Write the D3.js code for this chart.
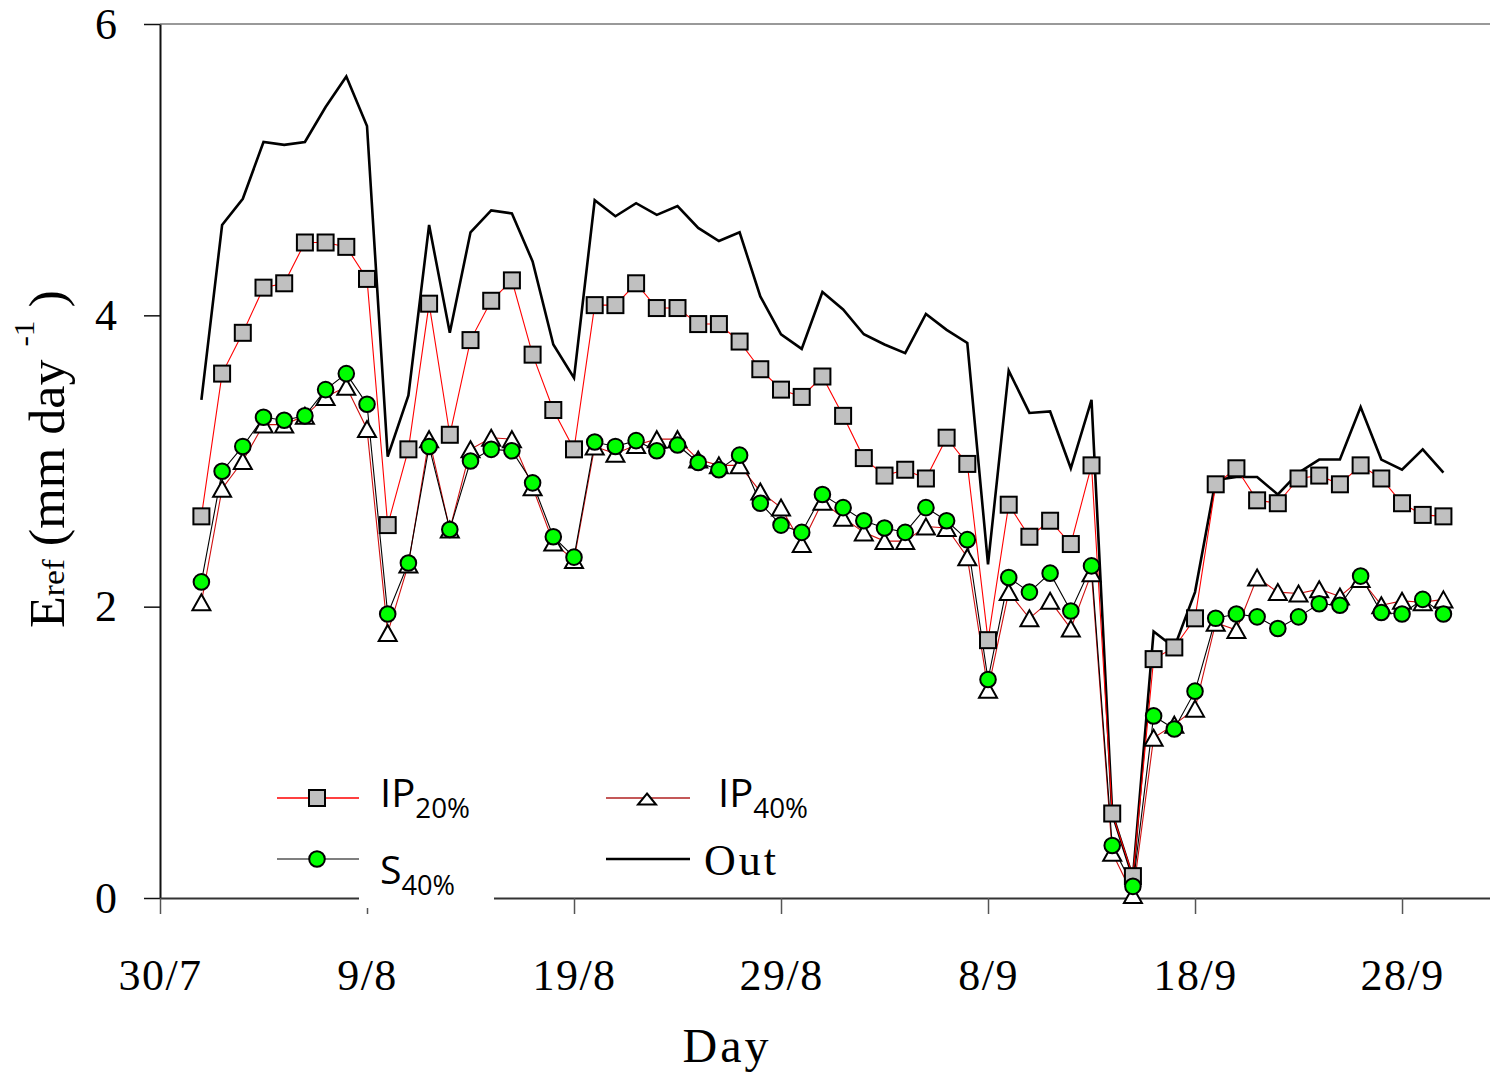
<!DOCTYPE html>
<html>
<head>
<meta charset="utf-8">
<script src="https://cdn.jsdelivr.net/npm/d3@7"></script>
<style>
  body { margin: 0; background: #fff; }
</style>
</head>
<body>
<div id="chart"></div>
<script>
// daily values 1/8 .. 30/9
const dates = [
  "1/8","2/8","3/8","4/8","5/8","6/8","7/8","8/8","9/8","10/8",
  "11/8","12/8","13/8","14/8","15/8","16/8","17/8","18/8","19/8","20/8",
  "21/8","22/8","23/8","24/8","25/8","26/8","27/8","28/8","29/8","30/8",
  "31/8","1/9","2/9","3/9","4/9","5/9","6/9","7/9","8/9","9/9",
  "10/9","11/9","12/9","13/9","14/9","15/9","16/9","17/9","18/9","19/9",
  "20/9","21/9","22/9","23/9","24/9","25/9","26/9","27/9","28/9","29/9","30/9"
];
const tickLabels = ["30/7", "9/8", "19/8", "29/8", "8/9", "18/9", "28/9"];
const yTicks = [0, 2, 4, 6];

const ip20 = [
  2.62, 3.60, 3.88, 4.19, 4.22, 4.50, 4.50, 4.47, 4.25,
  2.56, 3.08, 4.08, 3.18, 3.83, 4.10, 4.24, 3.73, 3.35, 3.08,
  4.07, 4.07, 4.22, 4.05, 4.05, 3.94, 3.94, 3.82, 3.63, 3.49,
  3.44, 3.58, 3.31, 3.02, 2.90, 2.94, 2.88, 3.16, 2.98, 1.77,
  2.70, 2.48, 2.59, 2.43, 2.97, 0.58, 0.15, 1.64, 1.72, 1.92,
  2.84, 2.95, 2.73, 2.71, 2.88, 2.90, 2.84, 2.97, 2.88, 2.71, 2.63, 2.62
];
const s40 = [
  2.17, 2.93, 3.10, 3.30, 3.28, 3.31, 3.49, 3.60, 3.39,
  1.95, 2.30, 3.10, 2.53, 3.00, 3.08, 3.07, 2.85, 2.48, 2.34,
  3.13, 3.10, 3.14, 3.07, 3.11, 2.99, 2.94, 3.04, 2.71, 2.56,
  2.51, 2.77, 2.68, 2.59, 2.54, 2.51, 2.68, 2.59, 2.46, 1.50,
  2.20, 2.10, 2.23, 1.97, 2.28, 0.36, 0.08, 1.25, 1.16, 1.42,
  1.92, 1.95, 1.93, 1.85, 1.93, 2.02, 2.01, 2.21, 1.96, 1.95, 2.05, 1.95
];
const ip40 = [
  2.03, 2.81, 3.00, 3.25, 3.25, 3.31, 3.44, 3.51, 3.22,
  1.82, 2.29, 3.15, 2.53, 3.08, 3.16, 3.15, 2.82, 2.44, 2.32,
  3.10, 3.05, 3.11, 3.15, 3.15, 3.01, 2.97, 2.97, 2.79, 2.68,
  2.43, 2.72, 2.61, 2.51, 2.45, 2.45, 2.55, 2.54, 2.34, 1.43,
  2.10, 1.92, 2.04, 1.85, 2.23, 0.31, 0.02, 1.10, 1.19, 1.30,
  1.89, 1.84, 2.20, 2.10, 2.09, 2.12, 2.07, 2.19, 2.01, 2.04, 2.03, 2.05
];
const outside = [
  3.42, 4.62, 4.80, 5.19, 5.17, 5.19, 5.43, 5.64, 5.30,
  3.03, 3.45, 4.62, 3.88, 4.57, 4.72, 4.70, 4.37, 3.80, 3.57,
  4.79, 4.68, 4.77, 4.69, 4.75, 4.60, 4.51, 4.57, 4.13, 3.87,
  3.77, 4.16, 4.04, 3.87, 3.80, 3.74, 4.01, 3.90, 3.81, 2.29,
  3.62, 3.33, 3.34, 2.95, 3.42, 0.58, 0.14, 1.83, 1.72, 2.10,
  2.87, 2.89, 2.89, 2.77, 2.92, 3.01, 3.01, 3.37, 3.01, 2.94, 3.08, 2.92
];

const W = 1490, H = 1074;
const serif = '"Liberation Serif", "Times New Roman", serif';
const sans = '"Open Sans", "Noto Sans", sans-serif';
const parse = d3.utcParse('%d/%m');

const svg = d3.select('#chart').append('svg')
  .attr('width', W).attr('height', H)
  .style('background', '#fff');

const start = parse('30/7');
const x = d3.scaleUtc()
  .domain([start, d3.utcHour.offset(start, 64.25 * 24)])
  .range([160, 1490]);
const y = d3.scaleLinear().domain([0, 6]).range([898, 24]);

// top frame line
svg.append('line')
  .attr('x1', 160).attr('x2', W)
  .attr('y1', y(6)).attr('y2', y(6))
  .attr('stroke', '#999').attr('stroke-width', 2);

// axes
const gy = svg.append('g')
  .attr('transform', 'translate(160,0)')
  .call(d3.axisLeft(y).tickValues(yTicks).tickFormat(d3.format('d'))
    .tickSize(16).tickSizeOuter(0).tickPadding(27));
gy.select('.domain').attr('stroke', '#111').attr('stroke-width', 2);
gy.selectAll('.tick line').attr('stroke', '#111').attr('stroke-width', 1.5);
gy.selectAll('.tick text').attr('font-family', serif).attr('font-size', 44).attr('fill', '#000');

const gx = svg.append('g')
  .attr('transform', 'translate(0,898)')
  .call(d3.axisBottom(x).tickValues(tickLabels.map(parse)).tickSize(16).tickSizeOuter(0)
    .tickPadding(45).tickFormat((d, i) => tickLabels[i]));
gx.select('.domain').attr('stroke', '#333').attr('stroke-width', 2);
gx.selectAll('.tick line').attr('stroke', '#555').attr('stroke-width', 1.5);
gx.selectAll('.tick text').attr('font-family', serif).attr('font-size', 44)
  .attr('fill', '#000').style('letter-spacing', '1.5px');

// axis titles
svg.append('text')
  .attr('x', 727).attr('y', 1062)
  .attr('text-anchor', 'middle')
  .attr('font-family', serif).attr('font-size', 48)
  .style('letter-spacing', '3px')
  .text('Day');

const ylab = svg.append('text')
  .attr('font-family', serif).attr('font-size', 50).attr('fill', '#000');
ylab.append('tspan').text('E');
ylab.append('tspan').attr('font-size', 32).text('ref');
ylab.append('tspan').text(' (mm day ');
ylab.append('tspan').attr('font-size', 30).attr('dy', -30).text('-1');
ylab.append('tspan').attr('dy', 30).text(' )');
const yl = ylab.node().getComputedTextLength();
ylab.attr('transform', `translate(64,628) rotate(-90) scale(${338 / yl},1)`);

// data
const pts = arr => arr.map((v, i) => ({ d: parse(dates[i]), v }));
const line = d3.line().x(p => x(p.d)).y(p => y(p.v));

const triPath = (w, h) => `M0,${-h / 2}L${w / 2},${h / 2}L${-w / 2},${h / 2}Z`;

svg.append('path').datum(pts(outside))
  .attr('d', line).attr('fill', 'none')
  .attr('stroke', '#000').attr('stroke-width', 2.6).attr('stroke-linejoin', 'miter');

svg.append('path').datum(pts(ip20))
  .attr('d', line).attr('fill', 'none')
  .attr('stroke', '#ff0000').attr('stroke-width', 1.1);

svg.append('path').datum(pts(ip40))
  .attr('d', line).attr('fill', 'none')
  .attr('stroke', '#d01010').attr('stroke-width', 1.1);

svg.append('path').datum(pts(s40))
  .attr('d', line).attr('fill', 'none')
  .attr('stroke', '#000').attr('stroke-width', 1.1);

svg.append('g').selectAll('rect').data(pts(ip20)).join('rect')
  .attr('x', p => x(p.d) - 8).attr('y', p => y(p.v) - 8)
  .attr('width', 16).attr('height', 16)
  .attr('fill', '#c0c0c0').attr('stroke', '#000').attr('stroke-width', 2);

svg.append('g').selectAll('path').data(pts(ip40)).join('path')
  .attr('transform', p => `translate(${x(p.d)},${y(p.v)})`)
  .attr('d', triPath(18, 16))
  .attr('fill', '#fff').attr('stroke', '#000').attr('stroke-width', 2)
  .attr('stroke-linejoin', 'miter');

svg.append('g').selectAll('circle').data(pts(s40)).join('circle')
  .attr('cx', p => x(p.d)).attr('cy', p => y(p.v)).attr('r', 7.8)
  .attr('fill', '#00ff00').attr('stroke', '#000').attr('stroke-width', 2);

// legend
svg.append('rect')
  .attr('x', 359).attr('y', 770).attr('width', 135).attr('height', 138)
  .attr('fill', '#fff');

const leg = svg.append('g');

function legendLabel(x0, yb, main, sub, width) {
  const t = leg.append('text')
    .attr('font-family', sans).attr('font-size', 39).attr('fill', '#000');
  t.append('tspan').text(main);
  t.append('tspan').attr('font-size', 27).attr('dy', 11).text(sub);
  const w = t.node().getComputedTextLength();
  t.attr('transform', `translate(${x0},${yb}) scale(${width / w},1)`);
}

// IP20%
leg.append('line').attr('x1', 277).attr('x2', 359).attr('y1', 798).attr('y2', 798)
  .attr('stroke', '#ff0000').attr('stroke-width', 1.5);
leg.append('rect').attr('x', 309).attr('y', 790).attr('width', 16).attr('height', 16)
  .attr('fill', '#c0c0c0').attr('stroke', '#000').attr('stroke-width', 2);
legendLabel(380, 807, 'IP', '20%', 90);

// S40%
leg.append('line').attr('x1', 277).attr('x2', 359).attr('y1', 859).attr('y2', 859)
  .attr('stroke', '#555').attr('stroke-width', 1.5);
leg.append('circle').attr('cx', 317).attr('cy', 859).attr('r', 7.8)
  .attr('fill', '#00ff00').attr('stroke', '#000').attr('stroke-width', 2);
legendLabel(380, 884, 'S', '40%', 75);

// IP40%
leg.append('line').attr('x1', 606).attr('x2', 690).attr('y1', 798).attr('y2', 798)
  .attr('stroke', '#b02020').attr('stroke-width', 1.5);
leg.append('path').attr('transform', 'translate(647,799)').attr('d', triPath(18, 11))
  .attr('fill', '#fff').attr('stroke', '#000').attr('stroke-width', 2);
legendLabel(718, 807, 'IP', '40%', 90);

// Out
leg.append('line').attr('x1', 606).attr('x2', 690).attr('y1', 859).attr('y2', 859)
  .attr('stroke', '#000').attr('stroke-width', 2.6);
leg.append('text')
  .attr('x', 704).attr('y', 875)
  .attr('font-family', serif).attr('font-size', 44)
  .style('letter-spacing', '3px')
  .text('Out');
</script>
</body>
</html>
